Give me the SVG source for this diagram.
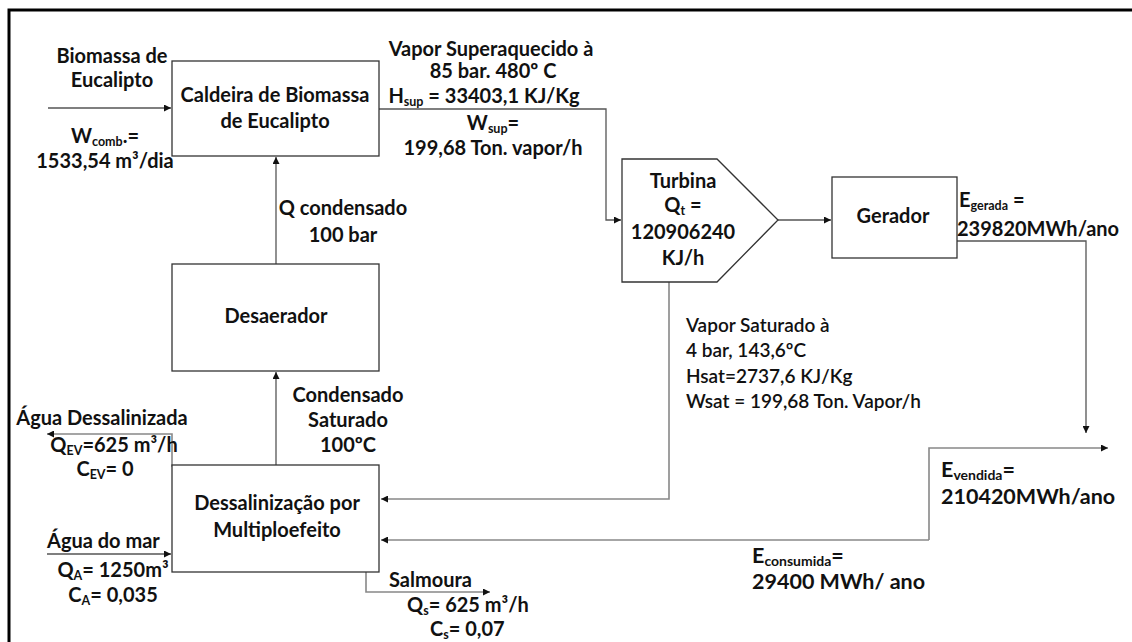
<svg xmlns="http://www.w3.org/2000/svg" width="1132" height="642" viewBox="0 0 1132 642">
<style>
text{font-family:Lato,"Liberation Sans",sans-serif;font-weight:700;font-size:20px;fill:#111}
.c{text-anchor:middle}
.sub{font-size:12.5px}
.big{font-size:21.5px}
.thin{font-size:19px;font-weight:600}
.box{fill:#fff;stroke:#333;stroke-width:1.3}
.ln{fill:none;stroke:#555;stroke-width:1.3}
.lg{fill:none;stroke:#888;stroke-width:1.6}
</style>
<defs>
<marker id="ah" viewBox="0 0 10 10" refX="10" refY="5" markerWidth="7" markerHeight="7" markerUnits="userSpaceOnUse" orient="auto">
<path d="M0,0 L10,5 L0,10 z" fill="#111"/>
</marker>
</defs>
<rect x="9" y="10" width="1140" height="650" fill="none" stroke="#000" stroke-width="3"/>
<g id="connectors">
<path class="ln" d="M48,108 L171,108" marker-end="url(#ah)"/>
<path class="ln" d="M379,109 L606,109 L606,220 L621,220" marker-end="url(#ah)"/>
<path class="ln" d="M778,220 L831,220" marker-end="url(#ah)"/>
<path class="ln" d="M957,241 L1086,241 L1086,433" marker-end="url(#ah)"/>
<path class="lg" d="M929,540 L929,448 L1108,448" marker-end="url(#ah)"/>
<path class="lg" d="M929,540 L381,540" marker-end="url(#ah)"/>
<path class="lg" d="M669,282 L669,499 L381,499" marker-end="url(#ah)"/>
<path class="ln" d="M276,465 L276,372" marker-end="url(#ah)"/>
<path class="ln" d="M276,264 L276,157" marker-end="url(#ah)"/>
<path class="lg" d="M190,466 L172,466 L172,434 L47,434" marker-end="url(#ah)"/>
<path class="ln" d="M47,554 L171,554" marker-end="url(#ah)"/>
<path class="lg" d="M366,572 L366,592 L490,592" marker-end="url(#ah)"/>
</g>
<g id="caldeira">
<rect class="box" x="172" y="61" width="207" height="95"/>
<text class="c" x="275" y="102">Caldeira de Biomassa</text>
<text class="c" x="275" y="128">de Eucalipto</text>
</g>
<g id="turbina">
<path class="box" d="M622,159 L717,159 L778,220 L717,282 L622,282 Z"/>
<text class="c" x="683" y="188">Turbina</text>
<text class="c" x="683" y="212">Q<tspan class="sub" dy="3">t</tspan><tspan dy="-3"> =</tspan></text>
<text class="c" x="683" y="239">120906240</text>
<text class="c" x="683" y="265">KJ/h</text>
</g>
<g id="gerador">
<rect class="box" x="832" y="177" width="125" height="81"/>
<text class="c" x="893" y="223">Gerador</text>
</g>
<g id="desaerador">
<rect class="box" x="172" y="264" width="207" height="107"/>
<text class="c" x="276" y="323">Desaerador</text>
</g>
<g id="dessalinizacao">
<rect class="box" x="172" y="465" width="207" height="107"/>
<text class="c" x="277" y="510">Dessalinização por</text>
<text class="c" x="277" y="537">Multiploefeito</text>
</g>
<g id="labels">
<text class="c" x="112" y="63">Biomassa de</text>
<text class="c" x="112" y="87">Eucalipto</text>
<text class="c" x="105" y="143">W<tspan class="sub" dy="3">comb</tspan><tspan dy="-3">.=</tspan></text>
<text class="c" x="105" y="168">1533,54 m³/dia</text>
<text class="c" x="491" y="56">Vapor Superaquecido à</text>
<text class="c" x="493" y="78">85 bar. 480º C</text>
<text class="c" x="484" y="103">H<tspan class="sub" dy="3">sup</tspan><tspan dy="-3"> = 33403,1 KJ/Kg</tspan></text>
<text class="c" x="493" y="130">W<tspan class="sub" dy="3">sup</tspan><tspan dy="-3">=</tspan></text>
<text class="c" x="493" y="155">199,68 Ton. vapor/h</text>
<text x="959" y="207">E<tspan class="sub" dy="3">gerada</tspan><tspan dy="-3"> =</tspan></text>
<text x="957" y="236">239820MWh/ano</text>
<text class="c" x="343" y="215">Q condensado</text>
<text class="c" x="343" y="242">100 bar</text>
<text class="c" x="348" y="402">Condensado</text>
<text class="c" x="348" y="427">Saturado</text>
<text class="c" x="348" y="452">100ºC</text>
<text class="thin" x="686" y="332">Vapor Saturado à</text>
<text class="thin" x="686" y="357">4 bar, 143,6ºC</text>
<text class="thin" x="686" y="383">Hsat=2737,6 KJ/Kg</text>
<text class="thin" x="686" y="408">Wsat = 199,68 Ton. Vapor/h</text>
<text class="c" x="102" y="425">Água Dessalinizada</text>
<text class="c" x="114" y="452">Q<tspan class="sub" dy="3">EV</tspan><tspan dy="-3">=625 m³/h</tspan></text>
<text class="c" x="105" y="476">C<tspan class="sub" dy="3">EV</tspan><tspan dy="-3">= 0</tspan></text>
<text x="47" y="548">Água do mar</text>
<text class="c" x="113" y="577">Q<tspan class="sub" dy="3">A</tspan><tspan dy="-3">= 1250m³</tspan></text>
<text class="c" x="113" y="602">C<tspan class="sub" dy="3">A</tspan><tspan dy="-3">= 0,035</tspan></text>
<text x="389" y="587">Salmoura</text>
<text x="407" y="612">Q<tspan class="sub" dy="3">s</tspan><tspan dy="-3">= 625 m³/h</tspan></text>
<text x="430" y="636">C<tspan class="sub" dy="3">s</tspan><tspan dy="-3">= 0,07</tspan></text>
<text class="big" x="941" y="477">E<tspan class="sub" style="font-size:14px" dy="3">vendida</tspan><tspan dy="-3">=</tspan></text>
<text class="big" x="941" y="504">210420MWh/ano</text>
<text class="big" x="752" y="563">E<tspan class="sub" style="font-size:14px" dy="3">consumida</tspan><tspan dy="-3">=</tspan></text>
<text class="big" x="752" y="589">29400 MWh/ ano</text>
</g>
</svg>
